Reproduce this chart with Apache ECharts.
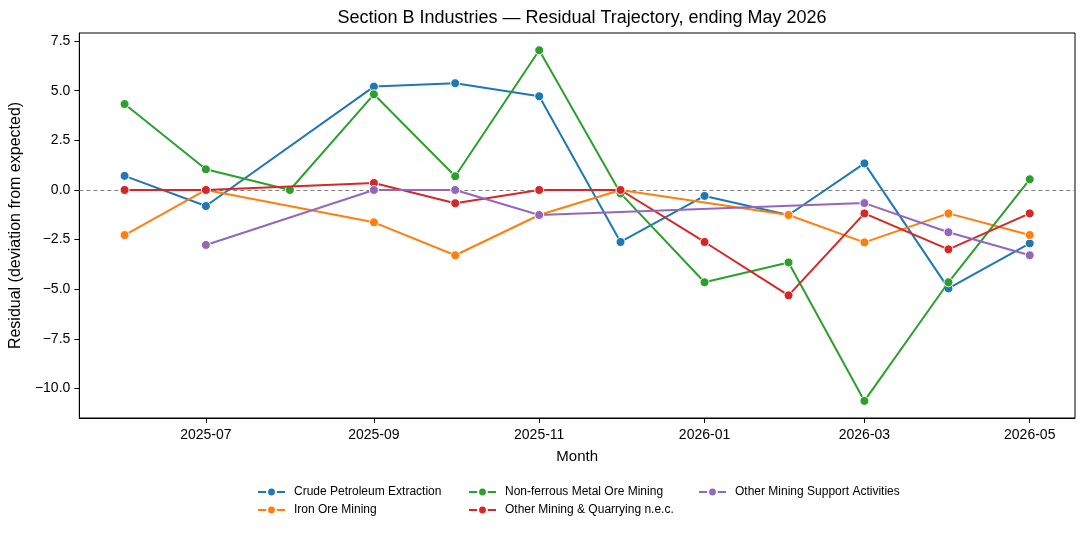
<!DOCTYPE html>
<html>
<head>
<meta charset="utf-8">
<script src="https://cdn.jsdelivr.net/npm/echarts@6/dist/echarts.min.js"></script>
<style>
  html, body { margin: 0; padding: 0; background: #fff; }
  #chart { width: 1085px; height: 533px; }
</style>
</head>
<body>
<div id="chart"></div>
<script>
// months Jun 2025 .. May 2026
const months = ['2025-06', '2025-07', '2025-08', '2025-09', '2025-10', '2025-11',
  '2025-12', '2026-01', '2026-02', '2026-03', '2026-04', '2026-05'];
const tickMonths = ['2025-07', '2025-09', '2025-11', '2026-01', '2026-03', '2026-05'];
const yTicks = [-10, -7.5, -5, -2.5, 0, 2.5, 5, 7.5];

const seriesNames = ['Crude Petroleum Extraction', 'Iron Ore Mining', 'Non-ferrous Metal Ore Mining',
  'Other Mining & Quarrying n.e.c.', 'Other Mining Support Activities'];
const colors = ['#1f77b4', '#ff7f0e', '#2ca02c', '#d62728', '#9467bd'];

const crude       = [0.71, -0.81, null, 5.21, 5.38, 4.72, -2.62, -0.30, -1.26, 1.34, -4.96, -2.69];
const ironOre     = [-2.27, 0.0, null, -1.63, -3.29, -1.26, 0.0, null, -1.26, -2.64, -1.18, -2.27];
const nonFerrous  = [4.33, 1.04, 0.0, 4.82, 0.69, 7.04, -0.17, -4.65, -3.65, -10.63, -4.65, 0.54];
const otherQuarry = [0.0, 0.0, null, 0.35, -0.67, 0.0, 0.0, -2.62, -5.31, -1.18, -2.99, -1.18];
const support     = [null, -2.77, null, 0.0, 0.0, -1.26, null, null, null, -0.66, -2.13, -3.29];
const allValues = [crude, ironOre, nonFerrous, otherQuarry, support];

const toTs = m => { const [y, mo] = m.split('-').map(Number); return Date.UTC(y, mo - 1, 1); };
const t0 = toTs(months[0]), t1 = toTs(months[months.length - 1]);
const pad = (t1 - t0) * 0.05;

const font = 'Liberation Sans, Arial, sans-serif';
const chart = echarts.init(document.getElementById('chart'));

const series = seriesNames.map((name, i) => {
  const s = {
    name,
    type: 'line',
    data: months.map((m, j) => [toTs(m), allValues[i][j]]),
    connectNulls: true,
    symbol: 'circle',
    symbolSize: 9,
    showSymbol: true,
    lineStyle: { width: 2, color: colors[i] },
    itemStyle: { color: colors[i], borderColor: '#fff', borderWidth: 1 },
    emphasis: { disabled: true },
    z: 3 + i
  };
  if (i === 0) {
    s.markLine = {
      silent: true,
      symbol: 'none',
      label: { show: false },
      lineStyle: { color: '#808080', type: [4, 3], width: 1 },
      data: [{ yAxis: 0 }],
      z: 1
    };
  }
  return s;
});

function legendFor(names, left) {
  return {
    orient: 'vertical',
    left, top: 481,
    itemWidth: 27, itemHeight: 11, itemGap: 6,
    selectedMode: false,
    textStyle: { fontFamily: font, fontSize: 12, color: '#000', padding: [0, 0, 0, 4] },
    data: names
  };
}

chart.setOption({
  animation: false,
  color: colors,
  title: {
    text: 'Section B Industries \u2014 Residual Trajectory, ending May 2026',
    left: 577, top: 4, textAlign: 'center',
    textStyle: { fontFamily: font, fontSize: 18, fontWeight: 'normal', color: '#000' }
  },
  legend: [
    legendFor([seriesNames[0], seriesNames[1]], 252),
    legendFor([seriesNames[2], seriesNames[3]], 463),
    legendFor([seriesNames[4]], 693)
  ],
  grid: {
    left: 79, right: 10, top: 33, bottom: 115,
    show: true, borderColor: '#000', borderWidth: 1, backgroundColor: 'transparent'
  },
  xAxis: {
    type: 'value',
    min: t0 - pad, max: t1 + pad,
    name: 'Month', nameLocation: 'middle', nameGap: 31,
    nameTextStyle: { fontFamily: font, fontSize: 15, color: '#000' },
    axisLine: { show: true, onZero: false, lineStyle: { color: '#000' } },
    axisTick: { show: true, length: 5, lineStyle: { color: '#000' }, customValues: tickMonths.map(toTs) },
    axisLabel: {
      fontFamily: font, fontSize: 14, color: '#000', margin: 10,
      customValues: tickMonths.map(toTs),
      formatter: v => { const d = new Date(v); return d.getUTCFullYear() + '-' + String(d.getUTCMonth() + 1).padStart(2, '0'); }
    },
    splitLine: { show: false }
  },
  yAxis: {
    type: 'value',
    min: -11.49, max: 7.91,
    name: 'Residual (deviation from expected)', nameLocation: 'middle', nameGap: 48,
    nameTextStyle: { fontFamily: font, fontSize: 16, color: '#000' },
    axisLine: { show: true, onZero: false, lineStyle: { color: '#000' } },
    axisTick: { show: true, length: 5, lineStyle: { color: '#000' }, customValues: yTicks },
    axisLabel: {
      fontFamily: font, fontSize: 14, color: '#000', margin: 9,
      customValues: yTicks,
      formatter: v => (v < 0 ? '\u2212' : '') + Math.abs(v).toFixed(1)
    },
    splitLine: { show: false }
  },
  series
});
</script>
</body>
</html>
